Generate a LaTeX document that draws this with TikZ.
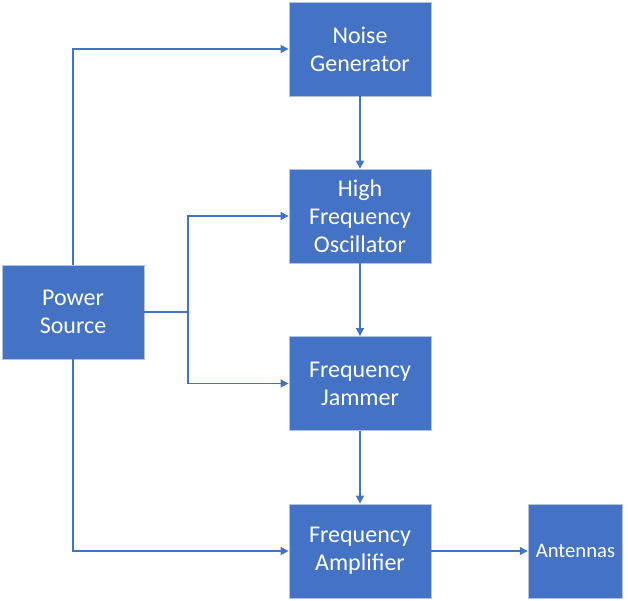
\documentclass[tikz,border=0pt]{standalone}
\usepackage{fontspec}
\setmainfont{Carlito}
\usetikzlibrary{arrows.meta, positioning, calc}
\definecolor{boxblue}{HTML}{4472C4}
\definecolor{boxedge}{HTML}{B4C2DE}

\begin{document}
\begin{tikzpicture}[x=0.75pt,y=-0.75pt,
    block/.style={draw=boxedge,line width=0.6pt,fill=boxblue,text=white,
      minimum width=106.5pt,minimum height=70.5pt,inner sep=0pt,
      align=center,font=\fontsize{18}{21}\selectfont},
    link/.style={draw=boxblue,line width=0.9pt,-{Triangle[length=6pt,width=6pt]}}]
  \useasboundingbox (0,0) rectangle (628,600);
  \node[block] (noise) at (360,49) {Noise\\Generator};
  \node[block] (osc) at (360,216) {High\\Frequency\\Oscillator};
  \node[block] (jam) at (360,383.5) {Frequency\\Jammer};
  \node[block] (amp) at (360,551) {Frequency\\Amplifier};
  \node[block,minimum width=71pt,font=\fontsize{15.5}{19}\selectfont] (ant) at (575.5,551) {Antennas};
  \node[block] (power) at (73,312) {Power\\Source};
  \coordinate (split) at (188,312);

  \draw[link] (power.north) |- (noise.west);
  \draw[link] (power.east) -- (split) |- (osc.west);
  \draw[link] (split) |- (jam.west);
  \draw[link] (power.south) |- (amp.west);
  \draw[link] (noise) -- (osc);
  \draw[link] (osc) -- (jam);
  \draw[link] (jam) -- (amp);
  \draw[link] (amp) -- (ant);
\end{tikzpicture}
\end{document}
